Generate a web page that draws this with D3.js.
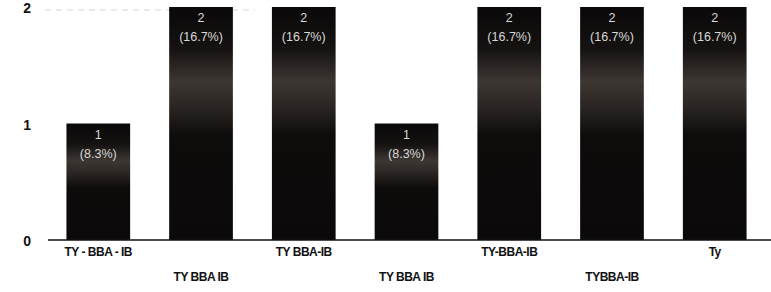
<!DOCTYPE html>
<html><head><meta charset="utf-8">
<script src="https://cdn.jsdelivr.net/npm/d3@7"></script>
<style>body{margin:0;background:#fff}svg{display:block}</style>
</head><body>
<script>
const categories = ["TY - BBA - IB","TY BBA IB","TY BBA-IB","TY BBA IB","TY-BBA-IB","TYBBA-IB","Ty"];
const values = [1,2,2,1,2,2,2];
const percents = ["8.3%","16.7%","16.7%","8.3%","16.7%","16.7%","16.7%"];
const yTicks = [0,1,2];

const W=771,H=292;
const svg=d3.select("body").append("svg").attr("width",W).attr("height",H);
const defs=svg.append("defs");
const g=defs.append("linearGradient").attr("id","bg").attr("x1",0).attr("x2",0).attr("y1",0).attr("y2",1);
[[0,"#0a0808"],[0.18,"#151211"],[0.32,"#3d3733"],[0.42,"#2c2724"],[0.55,"#0e0c0b"],[1,"#0b0909"]]
 .forEach(([o,c])=>g.append("stop").attr("offset",o).attr("stop-color",c));

const x=d3.scaleBand().domain(d3.range(categories.length)).range([50,763]).paddingInner(0.38).paddingOuter(0.16);
const y=d3.scaleLinear().domain([0,2]).range([240,7]);

// faint dashed gridline at top
svg.append("line").attr("x1",45).attr("x2",255).attr("y1",y(2)+3).attr("y2",y(2)+3)
 .attr("stroke","#bbb").attr("stroke-width",1).attr("stroke-dasharray","6,5").attr("opacity",0.6);

svg.selectAll("rect.bar").data(values).join("rect").attr("class","bar")
 .attr("x",(d,i)=>x(i)).attr("width",x.bandwidth())
 .attr("y",d=>y(d)).attr("height",d=>y(0)-y(d)).attr("fill","url(#bg)");

// baseline
svg.append("line").attr("x1",48).attr("x2",771).attr("y1",y(0)).attr("y2",y(0)).attr("stroke","#111").attr("stroke-width",1.5);

// y tick labels
svg.selectAll("text.yt").data(yTicks).join("text").attr("class","yt")
 .attr("x",31).attr("y",d=>y(d)+6).attr("text-anchor","end")
 .attr("font-family","Liberation Sans, Arial, sans-serif").attr("font-weight","bold").attr("font-size",14).attr("fill","#111")
 .text(d=>d);

// value labels
const vl=svg.selectAll("g.vl").data(values).join("g").attr("class","vl");
vl.append("text").attr("x",(d,i)=>x(i)+x.bandwidth()/2).attr("y",d=>y(d)+15)
 .attr("text-anchor","middle").attr("font-family","Liberation Sans, Arial, sans-serif").attr("font-size",12.5).attr("fill","#d8d8d8")
 .text(d=>d);
vl.append("text").attr("x",(d,i)=>x(i)+x.bandwidth()/2).attr("y",d=>y(d)+34)
 .attr("text-anchor","middle").attr("font-family","Liberation Sans, Arial, sans-serif").attr("font-size",12.5).attr("fill","#d8d8d8")
 .text((d,i)=>"("+percents[i]+")");

// category labels (staggered)
svg.selectAll("text.cl").data(categories).join("text").attr("class","cl")
 .attr("x",(d,i)=>x(i)+x.bandwidth()/2).attr("y",(d,i)=>i%2===0?256:281)
 .attr("text-anchor","middle").attr("font-family","Liberation Sans Narrow, Liberation Sans, Arial, sans-serif")
 .attr("font-weight","bold").attr("font-size",12).attr("letter-spacing","-0.5").attr("fill","#111")
 .text(d=>d);
</script>
</body></html>
